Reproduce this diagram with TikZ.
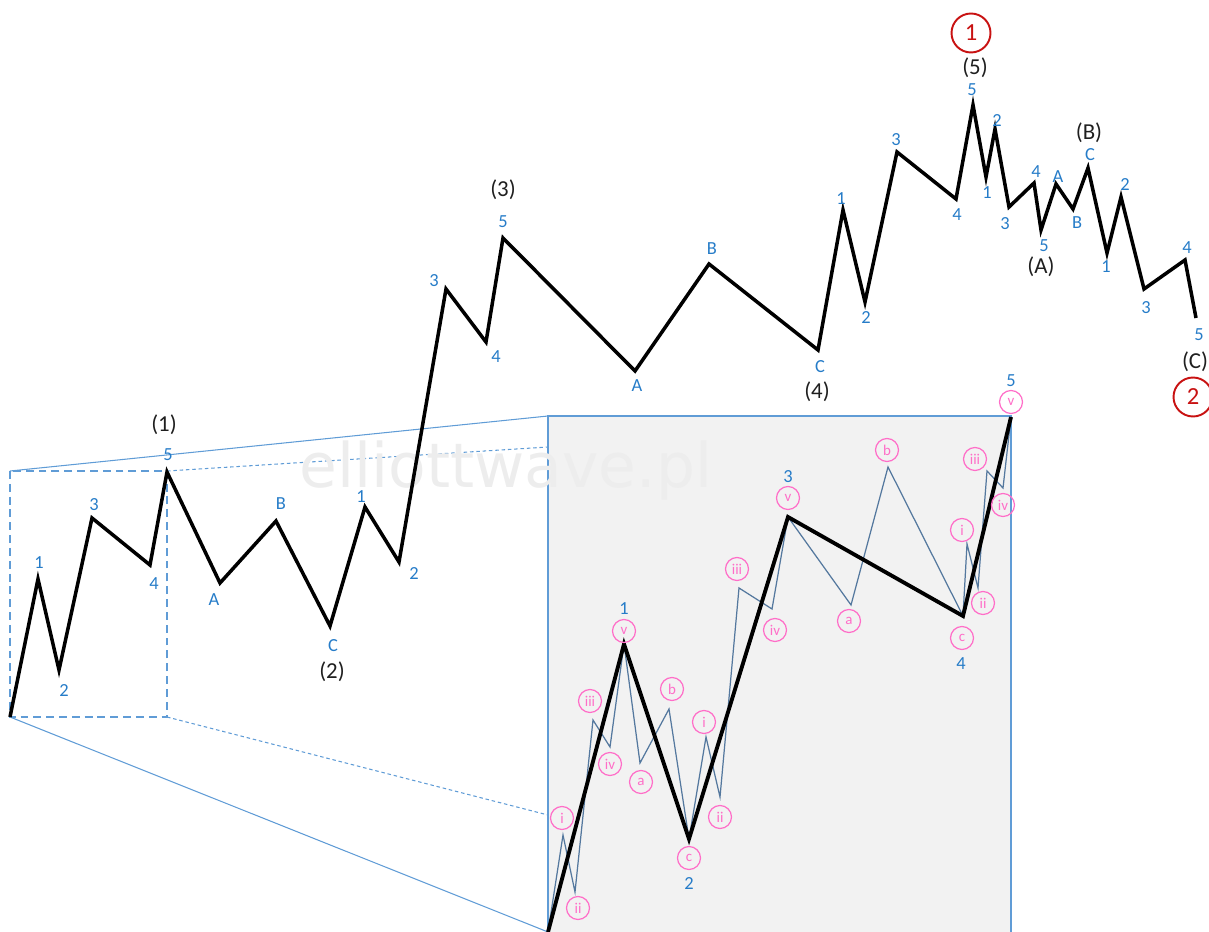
\documentclass[tikz,border=0pt]{standalone}
\usepackage{fontspec}
\setmainfont{Carlito}
\newfontfamily\markfont{DejaVu Sans}
\usetikzlibrary{positioning}

\definecolor{waveBlue}{RGB}{38,124,200}
\definecolor{frameBlue}{RGB}{96,156,214}
\definecolor{subLine}{RGB}{84,120,158}
\definecolor{subPink}{RGB}{255,110,200}
\definecolor{cycleRed}{RGB}{200,18,18}
\definecolor{insetFill}{RGB}{242,242,242}

\begin{document}
\begin{tikzpicture}[
  x=0.02cm, y=-0.02cm,
  mainWave/.style    ={draw=black, line width=2pt, line join=miter},
  subWave/.style     ={draw=subLine, line width=0.7pt},
  zoomFrame/.style   ={draw=frameBlue, line width=0.6pt},
  zoomBox/.style     ={draw=frameBlue, line width=0.8pt, dash pattern=on 4.5pt off 2.8pt},
  zoomDots/.style    ={draw=frameBlue, line width=0.6pt, dash pattern=on 2pt off 1.6pt},
  waveLabel/.style   ={text=waveBlue, inner sep=0pt, font=\fontsize{10.5}{12}\selectfont},
  degreeLabel/.style ={text=black!88, inner sep=0pt, font=\fontsize{13}{15}\selectfont},
  cycleLabel/.style  ={circle, draw=cycleRed, text=cycleRed, line width=1.1pt, minimum size=0.78cm, inner sep=0pt, font=\fontsize{14}{16}\selectfont},
  subLabel/.style    ={circle, draw=subPink, text=subPink, line width=0.7pt, minimum size=0.46cm, inner sep=0pt, font=\fontsize{8.5}{9}\selectfont},
  markText/.style    ={text=black!7, inner sep=0pt, anchor=base, font=\markfont\fontsize{35}{40}\selectfont}
]
\useasboundingbox (0,0) rectangle (1209,932);

% ================== ZOOM FRAME ==================
\coordinate (boxTL) at (10,471);
\coordinate (boxTR) at (167,471);
\coordinate (boxBR) at (167,717);
\coordinate (boxBL) at (10,717);
\coordinate (inTL)  at (548,416);
\coordinate (inTR)  at (1011,416);
\coordinate (inBR)  at (1011,932);
\coordinate (inBL)  at (548,932);
\coordinate (dotT)  at (548,447);
\coordinate (dotB)  at (548,815);

\fill[insetFill] (inTL) rectangle (inBR);
\draw[zoomFrame, line width=0.9pt] (inBL) -- (inTL) -- (inTR) -- (inBR);
\draw[zoomBox] (boxTL) rectangle (boxBR);
\draw[zoomFrame] (boxTL) -- (inTL);
\draw[zoomFrame] (boxBL) -- (inBL);
\draw[zoomDots] (boxTR) -- (dotT);
\draw[zoomDots] (boxBR) -- (dotB);

\node[markText] (mark) at (506,487) {elliottwave.pl};

% ================== MAIN WAVE ==================
\coordinate (s0)  at (10,717);
\coordinate (s1)  at (38,579);
\coordinate (s2)  at (59,670);
\coordinate (s3)  at (92,518);
\coordinate (s4)  at (150,565);
\coordinate (s5)  at (167,472);
\coordinate (s2A) at (220,583);
\coordinate (s2B) at (276,521);
\coordinate (s2C) at (330,626);
\coordinate (s31) at (365,507);
\coordinate (s32) at (399,562);
\coordinate (s33) at (446,289);
\coordinate (s34) at (486,342);
\coordinate (s35) at (503,238);
\coordinate (s4A) at (635,371);
\coordinate (s4B) at (709,264);
\coordinate (s4C) at (818,350);
\coordinate (s51) at (843,210);
\coordinate (s52) at (865,302);
\coordinate (s53) at (897,152);
\coordinate (s54) at (956,199);
\coordinate (s55) at (973,105);
\coordinate (sA1) at (986,177);
\coordinate (sA2) at (995,129);
\coordinate (sA3) at (1009,207);
\coordinate (sA4) at (1034,183);
\coordinate (sA5) at (1041,230);
\coordinate (sBA) at (1056,184);
\coordinate (sBB) at (1073,209);
\coordinate (sBC) at (1088,168);
\coordinate (sC1) at (1107,253);
\coordinate (sC2) at (1121,197);
\coordinate (sC3) at (1144,289);
\coordinate (sC4) at (1185,260);
\coordinate (sC5) at (1196,318);

\draw[mainWave] (s0) -- (s1) -- (s2) -- (s3) -- (s4) -- (s5)
  -- (s2A) -- (s2B) -- (s2C)
  -- (s31) -- (s32) -- (s33) -- (s34) -- (s35)
  -- (s4A) -- (s4B) -- (s4C)
  -- (s51) -- (s52) -- (s53) -- (s54) -- (s55)
  -- (sA1) -- (sA2) -- (sA3) -- (sA4) -- (sA5)
  -- (sBA) -- (sBB) -- (sBC)
  -- (sC1) -- (sC2) -- (sC3) -- (sC4) -- (sC5);

% wave (1)
\node[waveLabel] (l1)  at (39,563)  {1};
\node[waveLabel] (l2)  at (64,691)  {2};
\node[waveLabel] (l3)  at (94,505)  {3};
\node[waveLabel] (l4)  at (154,584) {4};
\node[waveLabel] (l5)  at (168,455) {5};
\node[degreeLabel] (deg1) at (164,425) {(1)};

% wave (2)
\node[waveLabel] (l2A) at (214,600) {A};
\node[waveLabel] (l2B) at (281,504) {B};
\node[waveLabel] (l2C) at (333,646) {C};
\node[degreeLabel] (deg2) at (332,672) {(2)};

% wave (3)
\node[waveLabel] (l31) at (361,497) {1};
\node[waveLabel] (l32) at (414,574) {2};
\node[waveLabel] (l33) at (434,281) {3};
\node[waveLabel] (l34) at (496,357) {4};
\node[waveLabel] (l35) at (503,222) {5};
\node[degreeLabel] (deg3) at (503,190) {(3)};

% wave (4)
\node[waveLabel] (l4A) at (637,386) {A};
\node[waveLabel] (l4B) at (712,249) {B};
\node[waveLabel] (l4C) at (820,367) {C};
\node[degreeLabel] (deg4) at (817,392) {(4)};

% wave (5)
\node[waveLabel] (l51) at (841,199) {1};
\node[waveLabel] (l52) at (866,318) {2};
\node[waveLabel] (l53) at (896,140) {3};
\node[waveLabel] (l54) at (957,215) {4};
\node[waveLabel] (l55) at (972,90)  {5};
\node[degreeLabel] (deg5) at (975,68) {(5)};
\node[cycleLabel] (cyc1) at (971,33) {1};

% wave (A)
\node[waveLabel] (lA1) at (987,193)  {1};
\node[waveLabel] (lA2) at (997,121)  {2};
\node[waveLabel] (lA3) at (1005,224) {3};
\node[waveLabel] (lA4) at (1036,172) {4};
\node[waveLabel] (lA5) at (1044,246) {5};
\node[degreeLabel] (degA) at (1041,267) {(A)};

% wave (B)
\node[waveLabel] (lBA) at (1058,177) {A};
\node[waveLabel] (lBB) at (1077,223) {B};
\node[waveLabel] (lBC) at (1090,155) {C};
\node[degreeLabel] (degB) at (1089,133) {(B)};

% wave (C)
\node[waveLabel] (lC1) at (1106,267) {1};
\node[waveLabel] (lC2) at (1125,185) {2};
\node[waveLabel] (lC3) at (1146,308) {3};
\node[waveLabel] (lC4) at (1187,248) {4};
\node[waveLabel] (lC5) at (1199,335) {5};
\node[degreeLabel] (degC) at (1195,362) {(C)};
\node[cycleLabel] (cyc2) at (1193,397) {2};

% ================== INSET (ZOOM OF WAVE (1)) ==================
\coordinate (z0) at (548,932);
\coordinate (z1) at (624,644);
\coordinate (z2) at (689,839);
\coordinate (z3) at (788,517);
\coordinate (z4) at (963,616);
\coordinate (z5) at (1011,417);

\coordinate (z1i)   at (563,835);
\coordinate (z1ii)  at (575,892);
\coordinate (z1iii) at (593,720);
\coordinate (z1iv)  at (610,747);
\coordinate (z2a)   at (640,763);
\coordinate (z2b)   at (669,709);
\coordinate (z3i)   at (706,737);
\coordinate (z3ii)  at (720,797);
\coordinate (z3iii) at (739,588);
\coordinate (z3iv)  at (772,609);
\coordinate (z4a)   at (851,605);
\coordinate (z4b)   at (888,467);
\coordinate (z5i)   at (967,544);
\coordinate (z5ii)  at (978,588);
\coordinate (z5iii) at (987,471);
\coordinate (z5iv)  at (1003,488);

% sub-waves first, main swing on top
\draw[subWave] (z0) -- (z1i) -- (z1ii) -- (z1iii) -- (z1iv) -- (z1)
  -- (z2a) -- (z2b) -- (z2)
  -- (z3i) -- (z3ii) -- (z3iii) -- (z3iv) -- (z3)
  -- (z4a) -- (z4b) -- (z4)
  -- (z5i) -- (z5ii) -- (z5iii) -- (z5iv) -- (z5);
\draw[mainWave, line width=2.2pt] (z0) -- (z1) -- (z2) -- (z3) -- (z4) -- (z5);

% wave 1
\node[subLabel] (t1i)   at (562,818) {i};
\node[subLabel] (t1ii)  at (578,908) {ii};
\node[subLabel] (t1iii) at (590,701) {iii};
\node[subLabel] (t1iv)  at (610,764) {iv};
\node[subLabel] (t1v)   at (624,631) {v};
\node[waveLabel] (n1)   at (624,609) {1};

% wave 2
\node[subLabel] (t2a) at (641,782) {a};
\node[subLabel] (t2b) at (672,689) {b};
\node[subLabel] (t2c) at (689,858) {c};
\node[waveLabel] (n2) at (689,884) {2};

% wave 3
\node[subLabel] (t3i)   at (704,722) {i};
\node[subLabel] (t3ii)  at (720,817) {ii};
\node[subLabel] (t3iii) at (737,569) {iii};
\node[subLabel] (t3iv)  at (775,630) {iv};
\node[subLabel] (t3v)   at (788,498) {v};
\node[waveLabel] (n3)   at (788,477) {3};

% wave 4
\node[subLabel] (t4a) at (849,621) {a};
\node[subLabel] (t4b) at (887,450) {b};
\node[subLabel] (t4c) at (962,638) {c};
\node[waveLabel] (n4) at (961,664) {4};

% wave 5
\node[subLabel] (t5i)   at (962,530) {i};
\node[subLabel] (t5ii)  at (983,603) {ii};
\node[subLabel] (t5iii) at (975,459) {iii};
\node[subLabel] (t5iv)  at (1003,505) {iv};
\node[subLabel] (t5v)   at (1011,402) {v};
\node[waveLabel] (n5)   at (1011,381) {5};

\end{tikzpicture}
\end{document}
